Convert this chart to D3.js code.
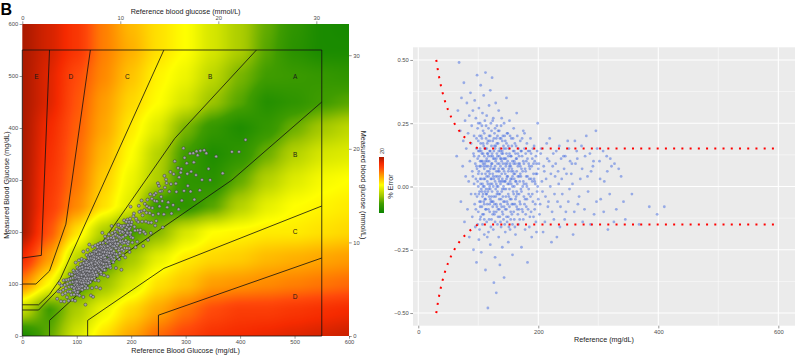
<!DOCTYPE html>
<html><head><meta charset="utf-8">
<script src="https://cdn.jsdelivr.net/npm/d3@7"></script>
<style>
body{margin:0;background:#fff}
svg{display:block}
text{font-family:"Liberation Sans",Arial,Helvetica,sans-serif}
</style></head>
<body><svg id="c" width="800" height="356"></svg>
<script>
// ---------------- DATA ----------------
const mgTicks = [0,100,200,300,400,500,600];
const mmolTicks = [0,10,20,30];
const refTicksR = [0,200,400,600];
const errTicks = [-0.5,-0.25,0,0.25,0.5];
const errLabels = ["\u22120.50","\u22120.25","0.00","0.25","0.50"];

// smoothed error level (0 = dark green ... 6 = dark red) read at 50 mg/dL nodes
const fieldRef = [0,50,100,150,200,250,300,350,400,450,500,550,600];
const fieldMeas = [600,550,500,450,400,350,300,250,200,150,100,50,0];
const errorField = [
 [6.0,5.6,5.1,4.3,3.7,3.3,3.0,2.5,2.0,1.3,0.7,0.3,0.2],
 [6.0,5.6,5.1,4.3,3.8,3.3,3.0,2.5,2.0,1.2,0.6,0.3,0.3],
 [6.0,5.5,4.8,4.2,3.6,3.1,2.8,2.2,1.5,1.0,0.9,0.8,0.7],
 [6.0,5.5,4.7,4.0,3.4,3.0,2.5,1.8,1.2,0.5,0.7,1.0,1.2],
 [6.0,5.3,4.6,3.9,3.2,2.6,1.5,0.8,0.4,0.8,1.4,1.9,2.2],
 [6.0,5.2,4.5,3.7,3.0,2.1,1.0,0.4,0.7,1.4,2.1,2.5,2.6],
 [6.0,5.1,4.4,3.5,2.8,2.0,0.7,0.6,1.3,2.1,2.6,2.9,3.0],
 [6.0,5.0,4.2,3.3,2.6,0.8,0.7,1.2,2.1,2.7,3.0,3.1,3.2],
 [6.0,4.7,3.3,2.0,1.0,1.6,2.5,3.0,3.1,3.2,3.2,3.3,3.4],
 [5.3,4.0,2.2,1.0,1.9,2.7,3.2,3.4,3.5,3.7,3.8,3.9,4.0],
 [4.2,3.0,1.0,1.8,2.6,3.3,3.6,4.0,4.1,4.2,4.3,4.4,4.5],
 [2.3,1.0,2.0,2.8,3.4,3.9,4.4,4.8,5.0,5.0,5.1,5.2,5.3],
 [0.3,1.3,2.5,3.3,3.9,4.5,4.9,5.2,5.3,5.4,5.5,5.6,5.7]
];
const levelStops = [0,1,1.8,2.5,3,3.6,4.2,4.8,5.3,6];
const levelColors = ["#0b8400","#3f9c00","#9cc400","#d6e600","#ffff00","#ffc400","#ff8a00","#ff4a0a","#f52a00","#ab1a00"];

// Parkes (type 1) zone boundaries [reference, measured]
const zoneBoundaries = [
 [[0,50],[30,50],[140,170],[280,380],[430,550]],
 [[50,0],[50,30],[170,145],[385,300],[550,450]],
 [[0,60],[30,60],[50,80],[70,110],[260,550]],
 [[120,0],[120,30],[260,130],[550,250]],
 [[0,100],[25,100],[50,125],[80,215],[125,550]],
 [[250,0],[250,40],[550,150]],
 [[0,150],[35,155],[50,550]]
];
const zoneBox = [[0,0],[0,550],[550,550],[550,0]];
const zoneLabels = [["E",26,499],["D",89,499],["C",193,499],["B",345,499],["A",501,499],["B",501,349],["C",501,200],["D",501,75]];

// ISO limits on the % error plot
const isoUpper = [[30,0.5],[32,0.469],[34,0.441],[36,0.417],[38,0.395],[40,0.375],[43,0.349],[46,0.326],[50,0.3],[55,0.273],[60,0.25],[65,0.231],[70,0.214],[75,0.2],[80,0.188],[85,0.176],[90,0.167],[95,0.158],[100,0.15],[600,0.15]];

// readings: [reference mg/dL, % error]
const samples = [
[64,12],[66,30],[68,49],[70,22],[71,-6],[72,35],[74,8],[75,18],[76,41],[77,-14],[78,26],[79,4],[80,15],[81,33],[82,-9],[83,21],[84,2],[85,28],[85,-20],[86,10],[87,37],[88,-3],[88,17],[89,24],[90,6],[90,-12],[91,30],[92,13],[92,-25],[93,1],[93,20],[94,-7],[94,34],[95,9],[95,-16],[96,27],[96,3],[97,-30],[97,15],[98,44],
[98,-4],[99,11],[99,23],[100,0],[100,-10],[100,18],[101,6],[101,-21],[101,31],[102,14],[102,-2],[102,8],[103,-13],[103,25],[103,3],[104,17],[104,-6],[104,40],[105,10],[105,-1],[105,-26],[105,20],
[106,5],[106,13],[106,-8],[107,29],[107,1],[107,-15],[108,9],[108,22],[108,-3],[109,16],[109,-11],[109,36],[110,0],[110,7],[110,-19],[110,12],[111,26],[111,-5],[111,3],[112,15],[112,-9],[112,45],[112,-33],
[113,8],[113,19],[113,-1],[114,11],[114,-14],[114,28],[115,2],[115,6],[115,-7],[115,17],[116,-48],[116,13],[116,-2],[117,23],[117,4],[117,-18],[118,10],[118,-4],[118,32],[119,14],[119,0],[119,-10],[120,7],[120,20],[120,-23],[120,1],[120,38],
[121,-6],[121,12],[121,25],[122,3],[122,-13],[122,16],[123,9],[123,-2],[123,43],[124,18],[124,-8],[124,5],[125,0],[125,11],[125,-17],[125,27],[126,14],[126,-4],[126,-38],[127,7],[127,21],[127,-11],[128,2],[128,15],[128,-28],[129,10],[129,-1],[129,33],[130,6],[130,-7],[130,19],[130,-42],
[131,13],[131,-3],[131,24],[132,4],[132,-15],[132,9],[133,17],[133,-9],[133,0],[134,30],[134,7],[134,-20],[135,12],[135,-5],[135,2],[135,22],[136,-12],[136,15],[136,-31],[137,8],[137,1],[137,-7],[138,19],[138,-16],[138,11],[139,5],[139,-2],[139,27],[140,14],[140,-10],[140,3],[140,-24],[141,9],[141,20],[141,-4],[142,0],[142,16],[142,-13],[143,6],[143,-36],[143,25],[144,11],[144,-6],[145,2],[145,18],[145,-18],
[146,8],[146,-1],[147,13],[147,-9],[147,35],[148,4],[148,-14],[149,10],[149,21],[150,-3],[150,6],[150,-22],[151,15],[151,1],[152,-8],[152,26],[153,9],[153,-17],[154,3],[154,12],[155,-5],[155,19],[156,-11],[156,7],[157,0],[157,-27],[158,14],[158,-2],[159,23],[159,5],[160,-13],[160,10],[161,-7],[161,17],[162,2],[162,-19],[163,11],[163,-4],[164,29],[164,6],[165,-9],[165,1],
[166,13],[167,-15],[168,4],[169,9],[169,-6],[170,18],[171,-1],[172,-24],[172,7],[173,12],[174,-10],[175,2],[175,22],[176,-4],[177,15],[178,-17],[179,6],[180,-8],[180,10],[181,0],[182,-30],[183,14],[184,-3],[185,8],[186,-12],[187,19],[188,3],[189,-20],[190,11],[191,-6],[192,5],[193,16],[194,-9],[195,1],[196,-14],[197,9],[198,-2],[199,25],[200,-5],[200,7],
[202,-11],[204,13],[206,2],[208,-18],[210,6],[212,-4],[214,17],[216,-8],[218,10],[220,0],[222,-22],[224,8],[226,-13],[228,4],[230,14],[232,-6],[234,1],[236,-16],[238,11],[240,-3],[243,7],[246,-10],[249,18],[252,-1],[255,5],[258,-19],
[262,9],[266,-7],[270,3],[274,-14],[278,12],[283,-2],[288,6],[293,-11],[298,15],[304,-5],[310,2],[316,-17],[322,8],[330,-9],[338,4],[345,-13],
[356,-3],[368,-15],[385,-8],[398,-11],[410,-8],
[245,12],[251,15],[256,9],[261,18],[265,11],[272,16],[280,20],[286,13],[291,8],[296,22],[302,10],[308,14],[315,6],[320,11],[327,9],
[91,4],[93,12],[95,-3],[97,8],[99,2],[100,14],[102,-6],[103,10],[104,1],[106,19],[107,-4],[108,13],[109,3],[110,-7],[111,9],[112,5],[113,-3],[114,15],[115,10],[116,1],[117,-9],[118,6],[119,18],[120,-5],[121,3],[122,9],[123,-6],[124,12],[125,4],[126,-10],[127,16],[128,8],[129,-4],[130,11],[131,0],[132,20],[133,6],[134,-3],[135,9],[136,4],[137,14],[138,-5],[139,10],[140,-1],[141,13],[142,7],[143,-8],[144,2],[145,9],[146,15],[147,3],[148,-6],[149,1],[150,12],[151,-4],[152,8],[153,2],[154,-10],[155,6],[156,16],[157,4],[158,-7],[159,9],[160,3],[162,13],[164,-2],[166,8],[168,-9],[170,5],[172,14],[174,0],[176,9],[178,-5],[180,4],[182,11],[184,-1],[186,7],[188,13],[190,-3],[192,9],[194,2],[196,12],[198,5],
[96,-9],[97,19],[98,7],[99,-15],[100,5],[100,25],[101,-3],[101,12],[102,20],[102,-17],[103,-8],[103,15],[104,8],[104,-12],[105,3],[105,14],[106,-2],[106,24],[107,10],[107,-11],[108,0],[108,17],[109,-6],[109,8],[110,21],[110,-13],[111,-2],[111,15],[112,10],[112,-5],[113,24],[113,-9],[114,4],[114,-3],[115,13],[115,-20],[116,8],[116,18],[117,-1],[117,12],[118,-13],[118,20],[119,5],[119,-7],[120,14],[120,-1],[121,8],[121,-16],[122,22],[122,-4],[123,1],[123,13],[124,-11],[124,26],[125,7],[125,-6],[126,19],[126,3],[127,-7],[127,11],[128,-14],[128,23],[129,4],[129,16],[130,-10],[130,1],
[131,17],[131,-8],[132,-2],[132,12],[133,-12],[133,22],[134,3],[134,14],[135,-9],[135,6],[136,-3],[136,19],[137,11],[137,-14],[138,2],[138,24],[139,-8],[139,13],[140,7],[140,18],[141,-11],[141,2],[142,11],[142,-6],[143,15],[143,-1],[144,20],[144,-15],[145,5],[145,-9],[146,-4],[146,11],[147,17],[147,-12],[148,9],[148,21],[149,-7],[149,4],[150,16],[150,-12],[151,7],[151,-16],[152,13],[152,-1],[153,20],[153,-5],[154,-13],[154,8],[155,1],[155,12],[156,-7],[156,3],[157,10],[157,-15],[158,6],[158,19],[159,-3],[159,-10],[160,14],[160,0],[161,5],[161,-16],[162,9],[162,-5],[163,16],[163,2],[164,-8],[164,11],[165,20],[165,-3],
[166,-11],[166,4],[167,9],[167,15],[168,-3],[168,12],[169,2],[169,-13],[170,8],[170,-7],[171,14],[171,4],[172,-2],[173,-9],[173,19],[174,6],[175,-13],[175,10],[176,1],[177,-7],[177,21],[178,7],[179,-11],[179,13],[180,1],[181,17],[181,-5],[182,4],[183,-9],[184,9],[185,-16],[185,3],[186,14],[187,-4],[188,-10],[189,8],[190,2],[191,15],[192,-12],[193,3],[194,10],[195,-7],[196,5],[197,-18],[198,14],[199,0],
[201,9],[203,-7],[205,15],[207,-2],[209,8],[211,-14],[213,3],[215,11],[217,-6],[219,19],[221,5],[223,-10],[225,13],[227,-3],[229,9],[231,-20],[233,6],[235,16],[237,-8],[239,3],[242,12],[244,-13],[247,5],[250,-6],[253,10],[257,1],[260,-10],[264,14],[268,-4],[273,7],[277,-9],[282,4],[287,-15],[292,10],[297,-6],[303,3],[309,-10],[314,12],[319,-3],[326,-14],[334,7],[342,-6]
];

// ---------------- DRAW ----------------
const svg = d3.select("#c");
const FONT = '"Liberation Sans",Arial,Helvetica,sans-serif';

function styleAxis(g, size){
  g.attr("font-family", FONT).attr("font-size", size || 5.8);
  g.select(".domain").remove();
  g.selectAll(".tick line").attr("stroke","#333").attr("stroke-width",0.5);
  g.selectAll(".tick text").attr("fill","#4d4d4d");
}

// ===== Left panel: error grid =====
const xL = d3.scaleLinear().domain([0,600]).range([22.3,349]);
const yL = d3.scaleLinear().domain([0,600]).range([336,24]);
const xMmol = d3.scaleLinear().domain([0,600/18]).range([22.3,349]);
const yMmol = d3.scaleLinear().domain([0,600/18]).range([336,24]);
const levelColor = d3.scaleLinear().domain(levelStops).range(levelColors).interpolate(d3.interpolateRgb).clamp(true);

function fieldAt(ref, meas){
  const step = fieldRef[1]-fieldRef[0];
  const fx = Math.max(0, Math.min(fieldRef.length-1.0001, (ref - fieldRef[0])/step));
  const fy = Math.max(0, Math.min(fieldMeas.length-1.0001, (fieldMeas[0]-meas)/step));
  const c0 = Math.floor(fx), r0 = Math.floor(fy);
  const tx = fx-c0, ty = fy-r0;
  const sx = tx*tx*(3-2*tx), sy = ty*ty*(3-2*ty);
  const a = errorField[r0][c0], b = errorField[r0][c0+1];
  const c = errorField[r0+1][c0], d = errorField[r0+1][c0+1];
  const ux = 0.5*tx + 0.5*sx, uy = 0.5*ty + 0.5*sy;
  return (1-uy)*((1-ux)*a + ux*b) + uy*((1-ux)*c + ux*d);
}

(function drawField(){
  const x0 = xL(0), x1 = xL(600), y0 = yL(600), y1 = yL(0);
  const w = Math.round(x1-x0), h = Math.round(y1-y0);
  const cv = document.createElement("canvas");
  cv.width = w; cv.height = h;
  const ctx = cv.getContext("2d");
  const img = ctx.createImageData(w,h);
  for(let j=0;j<h;j++){
    const meas = yL.invert(y0 + j + 0.5);
    for(let i=0;i<w;i++){
      const ref = xL.invert(x0 + i + 0.5);
      const c = d3.rgb(levelColor(fieldAt(ref, meas)));
      const k = (j*w+i)*4;
      img.data[k]=c.r; img.data[k+1]=c.g; img.data[k+2]=c.b; img.data[k+3]=255;
    }
  }
  ctx.putImageData(img,0,0);
  svg.append("image").attr("x",x0).attr("y",y0).attr("width",x1-x0).attr("height",y1-y0)
    .attr("preserveAspectRatio","none").attr("href", cv.toDataURL());
})();

const lineL = d3.line().x(d=>xL(d[0])).y(d=>yL(d[1]));
svg.append("path").attr("d", lineL(zoneBox)+"Z").attr("fill","none").attr("stroke","#111").attr("stroke-width",0.8);
svg.append("g").selectAll("path").data(zoneBoundaries).join("path")
  .attr("d", lineL).attr("fill","none").attr("stroke","#111").attr("stroke-width",0.8);

svg.append("g").selectAll("text").data(zoneLabels).join("text")
  .attr("x", d=>xL(d[1])).attr("y", d=>yL(d[2])).attr("dy","0.35em")
  .attr("text-anchor","middle").attr("font-size",6.5).attr("fill","#1a1a1a").text(d=>d[0]);

svg.append("g").selectAll("circle").data(samples).join("circle")
  .attr("cx", d=>xL(d[0])).attr("cy", d=>yL(d[0]*(1+d[1]/100)))
  .attr("r",1.5).attr("fill","#a4a4ae").attr("stroke","#3a3a3a").attr("stroke-width",0.5);

// axes of left panel
styleAxis(svg.append("g").attr("transform","translate(0,336)")
  .call(d3.axisBottom(xL).tickValues(mgTicks).tickSize(2.7).tickPadding(1.5)));
styleAxis(svg.append("g").attr("transform","translate(22.3,0)")
  .call(d3.axisLeft(yL).tickValues(mgTicks).tickSize(2.7).tickPadding(1.5)));
styleAxis(svg.append("g").attr("transform","translate(0,24)")
  .call(d3.axisTop(xMmol).tickValues(mmolTicks).tickSize(2.7).tickPadding(1.5)));
styleAxis(svg.append("g").attr("transform","translate(349,0)")
  .call(d3.axisRight(yMmol).tickValues(mmolTicks).tickSize(2.7).tickPadding(1.5)));

svg.append("text").attr("x",185.6).attr("y",352.5).attr("text-anchor","middle")
  .attr("font-size",7.2).attr("fill","#1a1a1a").text("Reference Blood Glucose (mg/dL)");
svg.append("text").attr("x",185.6).attr("y",14).attr("text-anchor","middle")
  .attr("font-size",7.2).attr("fill","#1a1a1a").text("Reference blood glucose (mmol/L)");
svg.append("text").attr("transform","translate(8.5,185) rotate(-90)").attr("text-anchor","middle")
  .attr("font-size",7.2).attr("fill","#1a1a1a").text("Measured Blood Glucose (mg/dL)");
svg.append("text").attr("transform","translate(361,185) rotate(90)").attr("text-anchor","middle")
  .attr("font-size",7.2).attr("fill","#1a1a1a").text("Measured blood glucose (mmol/L)");

// panel tag
svg.append("text").attr("x",0.5).attr("y",14.5).attr("font-size",16).attr("font-weight","bold").attr("fill","#000").text("B");

// colour bar legend
const defs = svg.append("defs");
const grad = defs.append("linearGradient").attr("id","errbar").attr("x1",0).attr("y1",1).attr("x2",0).attr("y2",0);
levelStops.forEach((s,i)=>grad.append("stop").attr("offset", (s/6*100)+"%").attr("stop-color", levelColors[i]));
svg.append("rect").attr("x",379).attr("y",157).attr("width",5).attr("height",56).attr("fill","url(#errbar)");
svg.append("text").attr("transform","translate(383.5,151) rotate(-90)").attr("text-anchor","middle")
  .attr("font-size",5.5).attr("fill","#333").text("20");

// ===== Right panel: % error =====
const xR = d3.scaleLinear().domain([-8.8,627.8]).range([413,795]);
const yR = d3.scaleLinear().domain([-0.55,0.55]).range([325.7,47.3]);
svg.append("rect").attr("x",413).attr("y",47.3).attr("width",795-413).attr("height",325.7-47.3).attr("fill","#ebebeb");

const gx = [100,300,500], gy = [-0.375,-0.125,0.125,0.375];
svg.append("g").selectAll("line").data(gx).join("line")
  .attr("x1",d=>xR(d)).attr("x2",d=>xR(d)).attr("y1",47.3).attr("y2",325.7).attr("stroke","#fff").attr("stroke-width",0.5);
svg.append("g").selectAll("line").data(gy).join("line")
  .attr("y1",d=>yR(d)).attr("y2",d=>yR(d)).attr("x1",413).attr("x2",795).attr("stroke","#fff").attr("stroke-width",0.5);
svg.append("g").selectAll("line").data(refTicksR).join("line")
  .attr("x1",d=>xR(d)).attr("x2",d=>xR(d)).attr("y1",47.3).attr("y2",325.7).attr("stroke","#fff").attr("stroke-width",1.1);
svg.append("g").selectAll("line").data(errTicks).join("line")
  .attr("y1",d=>yR(d)).attr("y2",d=>yR(d)).attr("x1",413).attr("x2",795).attr("stroke","#fff").attr("stroke-width",1.1);

svg.append("g").selectAll("circle").data(samples.filter(d=>Math.abs(d[1])<=50)).join("circle")
  .attr("cx", d=>xR(d[0])).attr("cy", d=>yR(d[1]/100))
  .attr("r",1.4).attr("fill","#4169e1").attr("fill-opacity",0.5);

const lineR = d3.line().x(d=>xR(d[0])).y(d=>yR(d[1])).curve(d3.curveMonotoneX);
[1,-1].forEach(s=>{
  svg.append("path").attr("d", lineR(isoUpper.map(d=>[d[0], s*d[1]])))
    .attr("fill","none").attr("stroke","#ff0000").attr("stroke-width",2)
    .attr("stroke-dasharray","2,6.23");
});

styleAxis(svg.append("g").attr("transform","translate(0,325.7)")
  .call(d3.axisBottom(xR).tickValues(refTicksR).tickSize(2.7).tickPadding(1.5)));
styleAxis(svg.append("g").attr("transform","translate(413,0)")
  .call(d3.axisLeft(yR).tickValues(errTicks).tickFormat((d,i)=>errLabels[i]).tickSize(2.7).tickPadding(1.5)));

svg.append("text").attr("x",604).attr("y",342).attr("text-anchor","middle")
  .attr("font-size",7.2).attr("fill","#1a1a1a").text("Reference (mg/dL)");
svg.append("text").attr("transform","translate(392.5,186.5) rotate(-90)").attr("text-anchor","middle")
  .attr("font-size",7.2).attr("fill","#1a1a1a").text("% Error");
</script></body></html>
